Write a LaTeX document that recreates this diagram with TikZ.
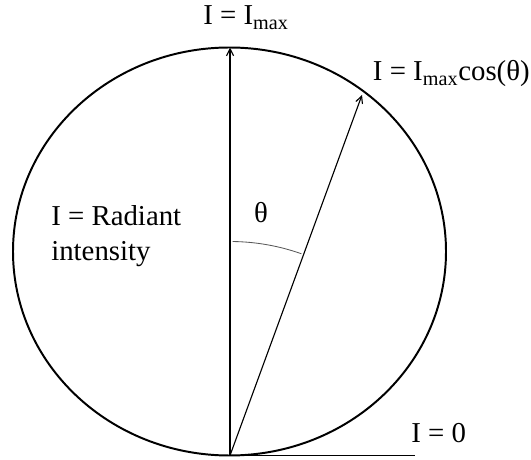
\documentclass[tikz,border=0pt]{standalone}
\usepackage{fontspec}
\setmainfont{Liberation Serif}
\usetikzlibrary{arrows.meta,positioning}

\begin{document}
\begin{tikzpicture}[x=0.025cm, y=0.025cm,
		lbl/.style={font=\fontsize{20.5}{25.5}\selectfont, inner sep=0pt},
		lobe/.style={line width=1.4pt},
		ray/.style={-{Straight Barb[length=5pt, width=5pt]}, line width=0.8pt},
		anglearc/.style={gray!70!black, line width=0.6pt},
		]
		\useasboundingbox (0,0) rectangle (531,459);
		% Points of the lobe
		\coordinate (O) at (230,3.5);
		\coordinate (top) at (230,411.5);
		\coordinate (tip) at (362,364);
		\coordinate (ground) at (415,3.5);
		% Lobe
		\draw[lobe] (229.5,207.5) ellipse [x radius=216.5, y radius=204];
		% Rays
		\draw[ray] (O) -- (top);
		\draw[ray] (O) -- (tip);
		\draw[line width=0.8pt] (O) -- (ground);
		% Angle
		\draw[anglearc] ([shift={(89.3:214)}]O) arc[start angle=89.3, end angle=70.5, radius=214];
		% Labels
		\node[lbl, anchor=base west] (lmax) at (203,434) {I = I\textsubscript{max}};
		\node[lbl, anchor=base east] (lcos) at (530,378) {I = I\textsubscript{max}cos(θ)};
		\node[lbl, anchor=base] (ltheta) at (261,236) {θ};
		\node[lbl, anchor=base west, align=left] (lrad) at (51,198) {I = Radiant\\intensity};
		\node[lbl, anchor=base west] (lzero) at (411,16) {I = 0};
	\end{tikzpicture}
\end{document}
